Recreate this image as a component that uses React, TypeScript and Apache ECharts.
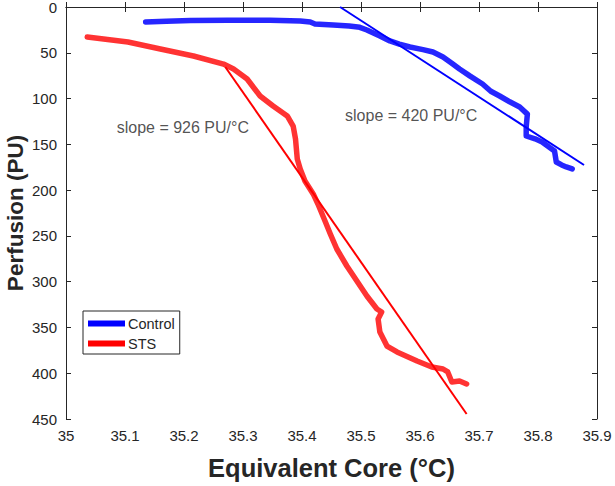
import React, { useEffect, useRef } from "react";
import * as echarts from "echarts";

const controlX = [35.135, 35.17, 35.211, 35.274, 35.346, 35.397, 35.414, 35.422, 35.453, 35.48, 35.498, 35.51, 35.532, 35.549, 35.565, 35.583, 35.605, 35.622, 35.639, 35.655, 35.667, 35.685, 35.706, 35.72, 35.735, 35.752, 35.769, 35.782, 35.781, 35.78, 35.78, 35.795, 35.807, 35.828, 35.831, 35.84, 35.848, 35.858];
const controlY = [16.4, 15.6, 14.8, 14.4, 14.6, 15.3, 16.4, 18.6, 19.7, 20.8, 22.2, 25.1, 31.7, 37.1, 40.5, 43.7, 46.5, 49.1, 54.6, 62.0, 67.7, 75.5, 84.1, 92.0, 97.2, 103.5, 109.2, 117.0, 124.0, 131.1, 140.9, 144.0, 147.4, 157.3, 169.3, 172.5, 174.7, 176.9];

const stsX = [35.036, 35.105, 35.16, 35.216, 35.267, 35.284, 35.307, 35.329, 35.351, 35.375, 35.385, 35.389, 35.392, 35.397, 35.405, 35.419, 35.427, 35.439, 35.448, 35.459, 35.476, 35.493, 35.51, 35.527, 35.535, 35.529, 35.532, 35.544, 35.561, 35.595, 35.62, 35.639, 35.647, 35.654, 35.667, 35.679];
const stsY = [32.8, 38.2, 45.9, 53.5, 62.3, 67.7, 78.6, 97.2, 108.1, 119.0, 130.0, 144.2, 166.0, 176.9, 190.0, 204.2, 215.2, 233.7, 247.9, 264.3, 282.9, 299.3, 315.6, 329.8, 333.1, 340.8, 355.0, 370.3, 376.8, 386.6, 393.2, 395.4, 398.6, 409.6, 408.5, 411.7];

const controlFitX = [35.4645, 35.878];
const controlFitY = [0, 172.6];
const stsFitX = [35.27, 35.679];
const stsFitY = [65.5, 444.5];

const annotations = [
  { x: 35.198, y: 131.5, text: "slope = 926 PU/°C" },
  { x: 35.585, y: 118, text: "slope = 420 PU/°C" },
];

const xTicks = { min: 35, max: 35.9, interval: 0.1 };
const yTicks = { min: 0, max: 450, interval: 50 };

const zip = (xs: number[], ys: number[]) => xs.map((x, i) => [x, ys[i]]);

const FONT = "Liberation Sans";
const DARK = "#262626";

export default function App() {
  const ref = useRef<HTMLDivElement>(null);
  useEffect(() => {
    if (!ref.current) return;
    const chart = echarts.init(ref.current, null, { renderer: "svg" });
    const axisCommon = {
      axisLine: { show: true, lineStyle: { color: DARK, width: 1 } },
      axisTick: { show: true, inside: true, length: 5, lineStyle: { color: DARK } },
      splitLine: { show: false },
    };
    chart.setOption({
      animation: false,
      backgroundColor: "#ffffff",
      grid: { left: 66, right: 18, top: 7, bottom: 67, containLabel: false, outerBoundsMode: "none" },
      legend: {
        data: ["Control", "STS"],
        orient: "vertical",
        left: 83,
        top: 311,
        itemWidth: 37,
        itemHeight: 6,
        itemGap: 5,
        padding: [5, 5, 3, 5],
        borderColor: DARK,
        borderWidth: 1,
        backgroundColor: "#ffffff",
        icon: "rect",
        textStyle: { fontFamily: FONT, fontSize: 14.5, color: DARK, padding: [0, 0, 0, -2] },
      },
      xAxis: [
        {
          type: "value",
          ...xTicks,
          position: "bottom",
          ...axisCommon,
          axisLabel: {
            show: true,
            margin: 9,
            fontFamily: FONT,
            fontSize: 15,
            color: DARK,
            formatter: (v: number) => String(+v.toFixed(1)),
          },
          name: "Equivalent Core (°C)",
          nameLocation: "middle",
          nameGap: 36,
          nameMoveOverlap: false,
          nameTextStyle: { fontFamily: FONT, fontSize: 25.5, fontWeight: "bold", color: DARK },
        },
        {
          type: "value",
          ...xTicks,
          position: "top",
          ...axisCommon,
          axisLabel: { show: false },
        },
      ],
      yAxis: [
        {
          type: "value",
          ...yTicks,
          inverse: true,
          position: "left",
          ...axisCommon,
          axisLabel: { show: true, margin: 9, fontFamily: FONT, fontSize: 15, color: DARK },
          name: "Perfusion (PU)",
          nameLocation: "middle",
          nameGap: 40,
          nameMoveOverlap: false,
          nameTextStyle: { fontFamily: FONT, fontSize: 22.5, lineHeight: 22, fontWeight: "bold", color: DARK },
        },
        {
          type: "value",
          ...yTicks,
          inverse: true,
          position: "right",
          ...axisCommon,
          axisLabel: { show: false },
        },
      ],
      series: [
        {
          name: "Control",
          type: "line",
          data: zip(controlX, controlY),
          showSymbol: false,
          color: "#0000ff",
          lineStyle: { color: "#0000ff", width: 5.5, opacity: 0.85, cap: "round", join: "round" },
          z: 3,
        },
        {
          name: "STS",
          type: "line",
          data: zip(stsX, stsY),
          showSymbol: false,
          color: "#ff0000",
          lineStyle: { color: "#ff0000", width: 5.5, opacity: 0.8, cap: "round", join: "round" },
          z: 3,
        },
        {
          name: "Control fit",
          type: "line",
          data: zip(controlFitX, controlFitY),
          showSymbol: false,
          lineStyle: { color: "#0000ff", width: 2 },
          z: 4,
        },
        {
          name: "STS fit",
          type: "line",
          data: zip(stsFitX, stsFitY),
          showSymbol: false,
          lineStyle: { color: "#ff0000", width: 2 },
          z: 4,
        },
        {
          name: "annotations",
          type: "scatter",
          symbolSize: 0,
          data: annotations.map((a) => ({ value: [a.x, a.y], name: a.text })),
          label: {
            show: true,
            position: "inside",
            formatter: (p: any) => p.name,
            fontFamily: FONT,
            fontSize: 16,
            color: DARK,
          },
          z: 5,
        },
      ],
    });
    return () => chart.dispose();
  }, []);
  return (
    <div
      ref={ref}
      style={{ position: "fixed", left: 0, top: 0, width: 615, height: 486, background: "#fff" }}
    />
  );
}
